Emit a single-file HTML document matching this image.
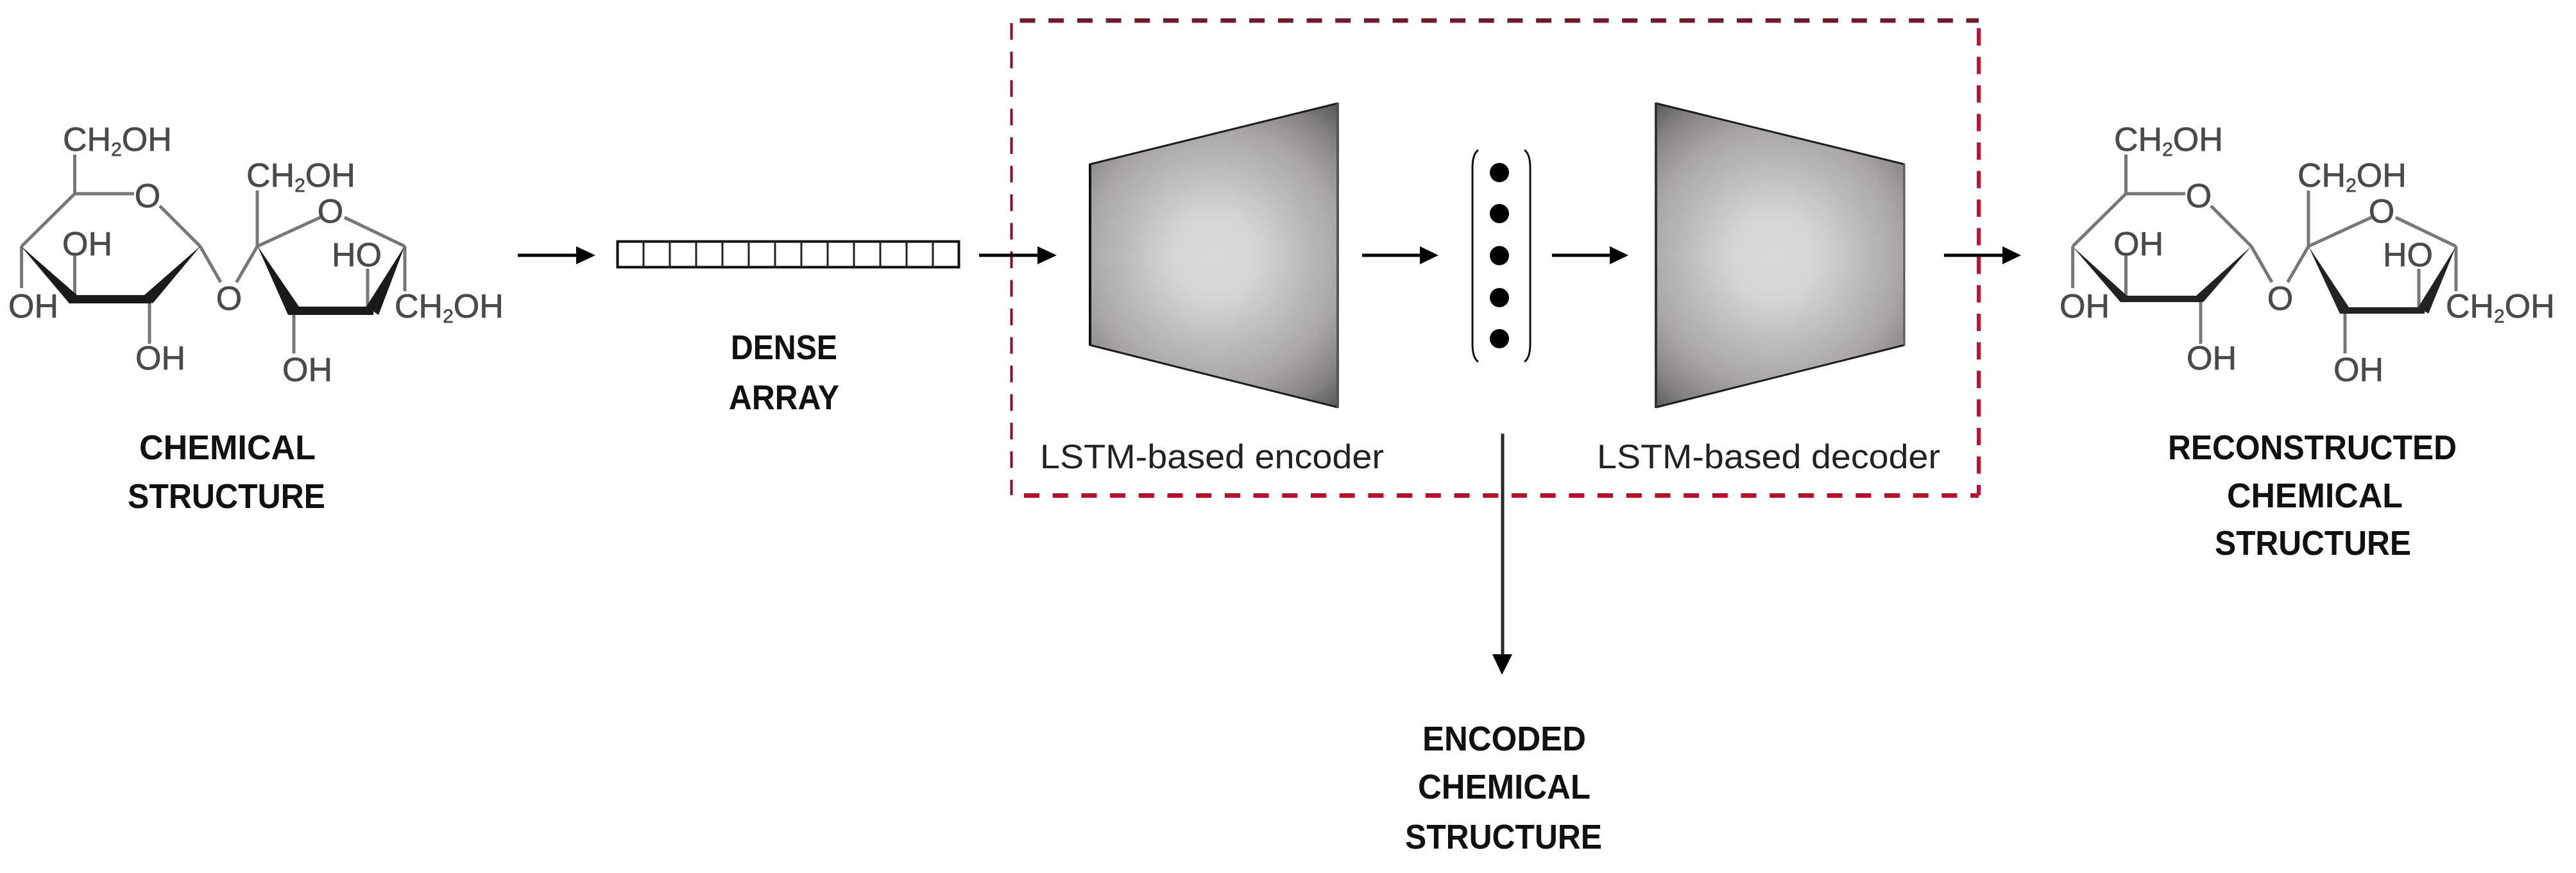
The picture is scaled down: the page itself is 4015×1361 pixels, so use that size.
<!DOCTYPE html>
<html>
<head>
<meta charset="utf-8">
<style>
html,body{margin:0;padding:0;background:#fff;}
svg{display:block;}
.c{font-family:"Liberation Sans",sans-serif;font-size:52px;fill:#4a4a4a;stroke:#4a4a4a;stroke-width:.7px;}
.b{font-family:"Liberation Sans",sans-serif;font-size:54px;font-weight:bold;fill:#111;}
.r{font-family:"Liberation Sans",sans-serif;font-size:53px;fill:#222;}
.thin{stroke:#777;stroke-width:5;fill:none;}
.ar{stroke:#000;stroke-width:5;}
</style>
</head>
<body>
<svg width="4015" height="1361" viewBox="0 0 4015 1361" xmlns="http://www.w3.org/2000/svg">
<defs>
<radialGradient id="g1" gradientUnits="userSpaceOnUse" cx="1893" cy="400" r="320">
<stop offset="0" stop-color="#dadada"/><stop offset=".2" stop-color="#d6d6d6"/><stop offset=".4" stop-color="#c0bfbf"/><stop offset=".62" stop-color="#a8a6a6"/><stop offset=".8" stop-color="#858383"/><stop offset="1" stop-color="#484848"/>
</radialGradient>
<radialGradient id="g2" gradientUnits="userSpaceOnUse" cx="2765" cy="400" r="320">
<stop offset="0" stop-color="#dadada"/><stop offset=".2" stop-color="#d6d6d6"/><stop offset=".4" stop-color="#c0bfbf"/><stop offset=".62" stop-color="#a8a6a6"/><stop offset=".8" stop-color="#858383"/><stop offset="1" stop-color="#484848"/>
</radialGradient>
</defs>
<rect width="4015" height="1361" fill="#fff"/>

<!-- left molecule -->
<g>
<path class="thin" d="M116.5 241V302H209M249 321L312 384M33.6 384L116.5 302M33.6 384V449M116.5 399V466M233 466V536M312 384L344 440M368.5 440L401 384M401 297V384L499 339M537 339L631 384M573 419V484M631 384V454M458 484V551"/>
<path d="M32 383L120 460L108 473Z" fill="#1a1a1a"/>
<rect x="108" y="460" width="128" height="13" fill="#1a1a1a"/>
<path d="M313 383L238 473L225 460Z" fill="#1a1a1a"/>
<path d="M401 383L466 478L449 491Z" fill="#1a1a1a"/>
<rect x="450" y="478" width="132" height="13" fill="#1a1a1a"/>
<path d="M631 383L590 491L571 478Z" fill="#1a1a1a"/>
<text class="c" x="98" y="235">CH<tspan font-size="30" dy="8">2</tspan><tspan dy="-8">OH</tspan></text>
<text class="c" x="230" y="323" text-anchor="middle">O</text>
<text class="c" x="97" y="398">OH</text>
<text class="c" x="13" y="495">OH</text>
<text class="c" x="211" y="576">OH</text>
<text class="c" x="357" y="483" text-anchor="middle">O</text>
<text class="c" x="384" y="291">CH<tspan font-size="30" dy="8">2</tspan><tspan dy="-8">OH</tspan></text>
<text class="c" x="515" y="347" text-anchor="middle">O</text>
<text class="c" x="517" y="415">HO</text>
<text class="c" x="615" y="495">CH<tspan font-size="30" dy="8">2</tspan><tspan dy="-8">OH</tspan></text>
<text class="c" x="440" y="594">OH</text>
</g>

<!-- right molecule -->
<g transform="translate(3197 0)">
<path class="thin" d="M116.5 241V302H209M249 321L312 384M33.6 384L116.5 302M33.6 384V449M116.5 399V466M233 466V536M312 384L344 440M368.5 440L401 384M401 297V384L499 339M537 339L631 384M573 419V484M631 384V454M458 484V551"/>
<path d="M33 384L118 461L108 471Z" fill="#222"/>
<rect x="108" y="461" width="128" height="10" fill="#222"/>
<path d="M312 384L237 471L226 461Z" fill="#222"/>
<path d="M401 384L464 479L450 489Z" fill="#222"/>
<rect x="450" y="479" width="132" height="10" fill="#222"/>
<path d="M631 384L588 489L572 479Z" fill="#222"/>
<text class="c" x="98" y="235">CH<tspan font-size="30" dy="8">2</tspan><tspan dy="-8">OH</tspan></text>
<text class="c" x="230" y="323" text-anchor="middle">O</text>
<text class="c" x="97" y="398">OH</text>
<text class="c" x="13" y="495">OH</text>
<text class="c" x="211" y="576">OH</text>
<text class="c" x="357" y="483" text-anchor="middle">O</text>
<text class="c" x="384" y="291">CH<tspan font-size="30" dy="8">2</tspan><tspan dy="-8">OH</tspan></text>
<text class="c" x="515" y="347" text-anchor="middle">O</text>
<text class="c" x="517" y="415">HO</text>
<text class="c" x="615" y="495">CH<tspan font-size="30" dy="8">2</tspan><tspan dy="-8">OH</tspan></text>
<text class="c" x="440" y="594">OH</text>
</g>

<!-- bold labels -->
<text class="b" x="217" y="716" textLength="275" lengthAdjust="spacingAndGlyphs">CHEMICAL</text>
<text class="b" x="199" y="792" textLength="308" lengthAdjust="spacingAndGlyphs">STRUCTURE</text>
<text class="b" x="1139" y="560" textLength="166" lengthAdjust="spacingAndGlyphs">DENSE</text>
<text class="b" x="1136" y="638" textLength="172" lengthAdjust="spacingAndGlyphs">ARRAY</text>
<text class="b" x="2217" y="1170" textLength="255" lengthAdjust="spacingAndGlyphs">ENCODED</text>
<text class="b" x="2210" y="1245" textLength="269" lengthAdjust="spacingAndGlyphs">CHEMICAL</text>
<text class="b" x="2190" y="1323" textLength="307" lengthAdjust="spacingAndGlyphs">STRUCTURE</text>
<text class="b" x="3379" y="716" textLength="450" lengthAdjust="spacingAndGlyphs">RECONSTRUCTED</text>
<text class="b" x="3471" y="791" textLength="274" lengthAdjust="spacingAndGlyphs">CHEMICAL</text>
<text class="b" x="3452" y="865" textLength="306" lengthAdjust="spacingAndGlyphs">STRUCTURE</text>

<!-- array -->
<rect x="962.5" y="376.500" width="532" height="40" fill="#fff" stroke="#111" stroke-width="4"/>
<path stroke="#222" stroke-width="3" fill="none" d="M1003 376V417M1044 376V417M1085 376V417M1126 376V417M1167 376V417M1208 376V417M1249 376V417M1290 376V417M1331 376V417M1372 376V417M1413 376V417M1454 376V417"/>

<!-- red dashed box -->
<path d="M1589.500 32H3084" stroke="#701a2e" stroke-width="7" stroke-dasharray="24 20.7" fill="none"/>
<path d="M1596 772.500H3084" stroke="#c4052a" stroke-width="7" stroke-dasharray="24 20.7" fill="none"/>
<path d="M3084 44V772" stroke="#c8102e" stroke-width="6" stroke-dasharray="27 17.5" fill="none"/>
<path d="M1576.500 36V772" stroke="#8a1038" stroke-width="4" stroke-dasharray="26 18.5" fill="none"/>

<!-- trapezoids -->
<path d="M1699 256L2085 161V635L1699 538Z" fill="url(#g1)"/>
<path d="M1699 256L2085 161M1699 538L2085 635" stroke="#1c1c1c" stroke-width="3" fill="none"/>
<path d="M1699 255V539" stroke="#111" stroke-width="4" fill="none"/>
<path d="M2085 160V636" stroke="#555" stroke-width="4" fill="none"/>
<path d="M2581 161L2968 256V538L2581 635Z" fill="url(#g2)"/>
<path d="M2581 161L2968 256M2581 635L2968 538" stroke="#1c1c1c" stroke-width="3" fill="none"/>
<path d="M2581 160V636" stroke="#333" stroke-width="4" fill="none"/>
<path d="M2968 255V539" stroke="#555" stroke-width="3" fill="none"/>

<!-- bracket and dots -->
<path d="M2304 234Q2295 240 2295 262V536Q2295 558 2304 564M2376 234Q2385 240 2385 262V536Q2385 558 2376 564" stroke="#111" stroke-width="3" fill="none"/>
<circle cx="2337" cy="269" r="15" fill="#000"/>
<circle cx="2337" cy="333" r="15" fill="#000"/>
<circle cx="2337" cy="398.500" r="15" fill="#000"/>
<circle cx="2337" cy="464" r="15" fill="#000"/>
<circle cx="2337" cy="528" r="15" fill="#000"/>

<!-- LSTM labels -->
<text class="r" x="1621" y="730" textLength="536" lengthAdjust="spacingAndGlyphs">LSTM-based encoder</text>
<text class="r" x="2489" y="730" textLength="535" lengthAdjust="spacingAndGlyphs">LSTM-based decoder</text>

<!-- arrows -->
<path class="ar" d="M807 398H900"/><path d="M898 384L928 398L898 412Z" fill="#000"/>
<path class="ar" d="M1526 398H1620"/><path d="M1617 384L1647 398L1617 412Z" fill="#000"/>
<path class="ar" d="M2123 398H2215"/><path d="M2213 384L2242 398L2213 412Z" fill="#000"/>
<path class="ar" d="M2419 398H2511"/><path d="M2509 384L2538 398L2509 412Z" fill="#000"/>
<path class="ar" d="M3030 398H3123"/><path d="M3121 384L3150 398L3121 412Z" fill="#000"/>
<path d="M2342 676V1022" stroke="#2a2a2a" stroke-width="5"/><path d="M2326 1020H2357L2341 1052Z" fill="#000"/>
</svg>
</body>
</html>
